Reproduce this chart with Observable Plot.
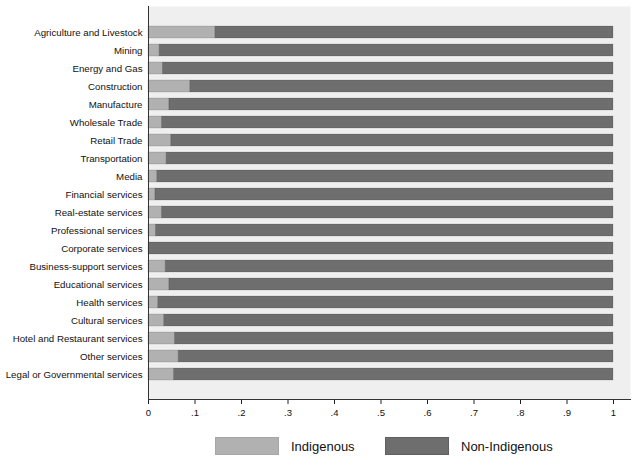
<!DOCTYPE html>
<html><head><meta charset="utf-8">
<script src="https://cdn.jsdelivr.net/npm/d3@7"></script>
<script src="https://cdn.jsdelivr.net/npm/@observablehq/plot@0.6"></script>
<style>
body{margin:0;background:#fff;font-family:"Liberation Sans",Arial,Helvetica,sans-serif}
#wrap{position:relative;width:640px;height:465px}
.leg{position:absolute;top:437px;height:19px;font-size:13px;line-height:19px;color:#111}
.box{position:absolute;top:437px;width:64px;height:18px;box-sizing:border-box}
</style>
</head><body><div id="wrap"><div id="chart"></div></div>
<script>
const sectors = [
  "Agriculture and Livestock","Mining","Energy and Gas","Construction","Manufacture",
  "Wholesale Trade","Retail Trade","Transportation","Media","Financial services",
  "Real-estate services","Professional services","Corporate services","Business-support services",
  "Educational services","Health services","Cultural services","Hotel and Restaurant services",
  "Other services","Legal or Governmental services"
];
const indigenousShare = [0.144,0.024,0.031,0.090,0.045,0.029,0.049,0.039,0.019,0.015,
  0.029,0.016,0.001,0.037,0.045,0.021,0.034,0.057,0.065,0.055];
const groups = ["Indigenous","Non-Indigenous"];
const groupColors = ["#b1b1b1","#6e6e6e"];
const xTicks = [0,0.1,0.2,0.3,0.4,0.5,0.6,0.7,0.8,0.9,1];
const xTickLabels = ["0",".1",".2",".3",".4",".5",".6",".7",".8",".9","1"];

const data = sectors.flatMap((s, i) => [
  {sector: s, group: groups[0], share: indigenousShare[i]},
  {sector: s, group: groups[1], share: 1 - indigenousShare[i]}
]);

const plot = Plot.plot({
  width: 640, height: 420,
  marginLeft: 148, marginRight: 10, marginTop: 6, marginBottom: 21,
  style: {fontFamily: '"Liberation Sans", Arial, sans-serif', fontSize: "10px", color: "#111", background: "transparent"},
  x: {domain: [0, 1], insetRight: 17},
  y: {domain: sectors, insetTop: 17, insetBottom: 15, paddingInner: 0.333, paddingOuter: 0.1667},
  color: {domain: groups, range: groupColors},
  marks: [
    Plot.frame({fill: "#efefef", stroke: "none"}),
    Plot.barX(data, Plot.stackX({x: "share", y: "sector", fill: "group", order: groups,
      stroke: "black", strokeOpacity: 0.15, strokeWidth: 0.8})),
    Plot.axisY({tickSize: 0, tickPadding: 6, fontSize: 9.7, label: null, color: "#111"}),
    Plot.axisX({ticks: xTicks, tickFormat: (d, i) => xTickLabels[xTicks.indexOf(d)], tickSize: 5, tickPadding: 5, fontSize: 9.5, label: null, stroke: "#222"}),
    Plot.ruleX([0], {stroke: "#333", strokeWidth: 1}),
    Plot.frame({anchor: "bottom", stroke: "#333", strokeWidth: 1})
  ]
});
document.getElementById("chart").appendChild(plot);

const wrap = document.getElementById("wrap");
const legendLeft = [215, 385];
const textLeft = [291, 461];
groups.forEach((g, i) => {
  const b = document.createElement("div");
  b.className = "box";
  b.style.left = legendLeft[i] + "px";
  b.style.background = groupColors[i];
  b.style.border = "1px solid " + (i ? "#606060" : "#a6a6a6");
  wrap.appendChild(b);
  const t = document.createElement("div");
  t.className = "leg";
  t.style.left = textLeft[i] + "px";
  t.textContent = g;
  wrap.appendChild(t);
});
</script>
</body></html>
